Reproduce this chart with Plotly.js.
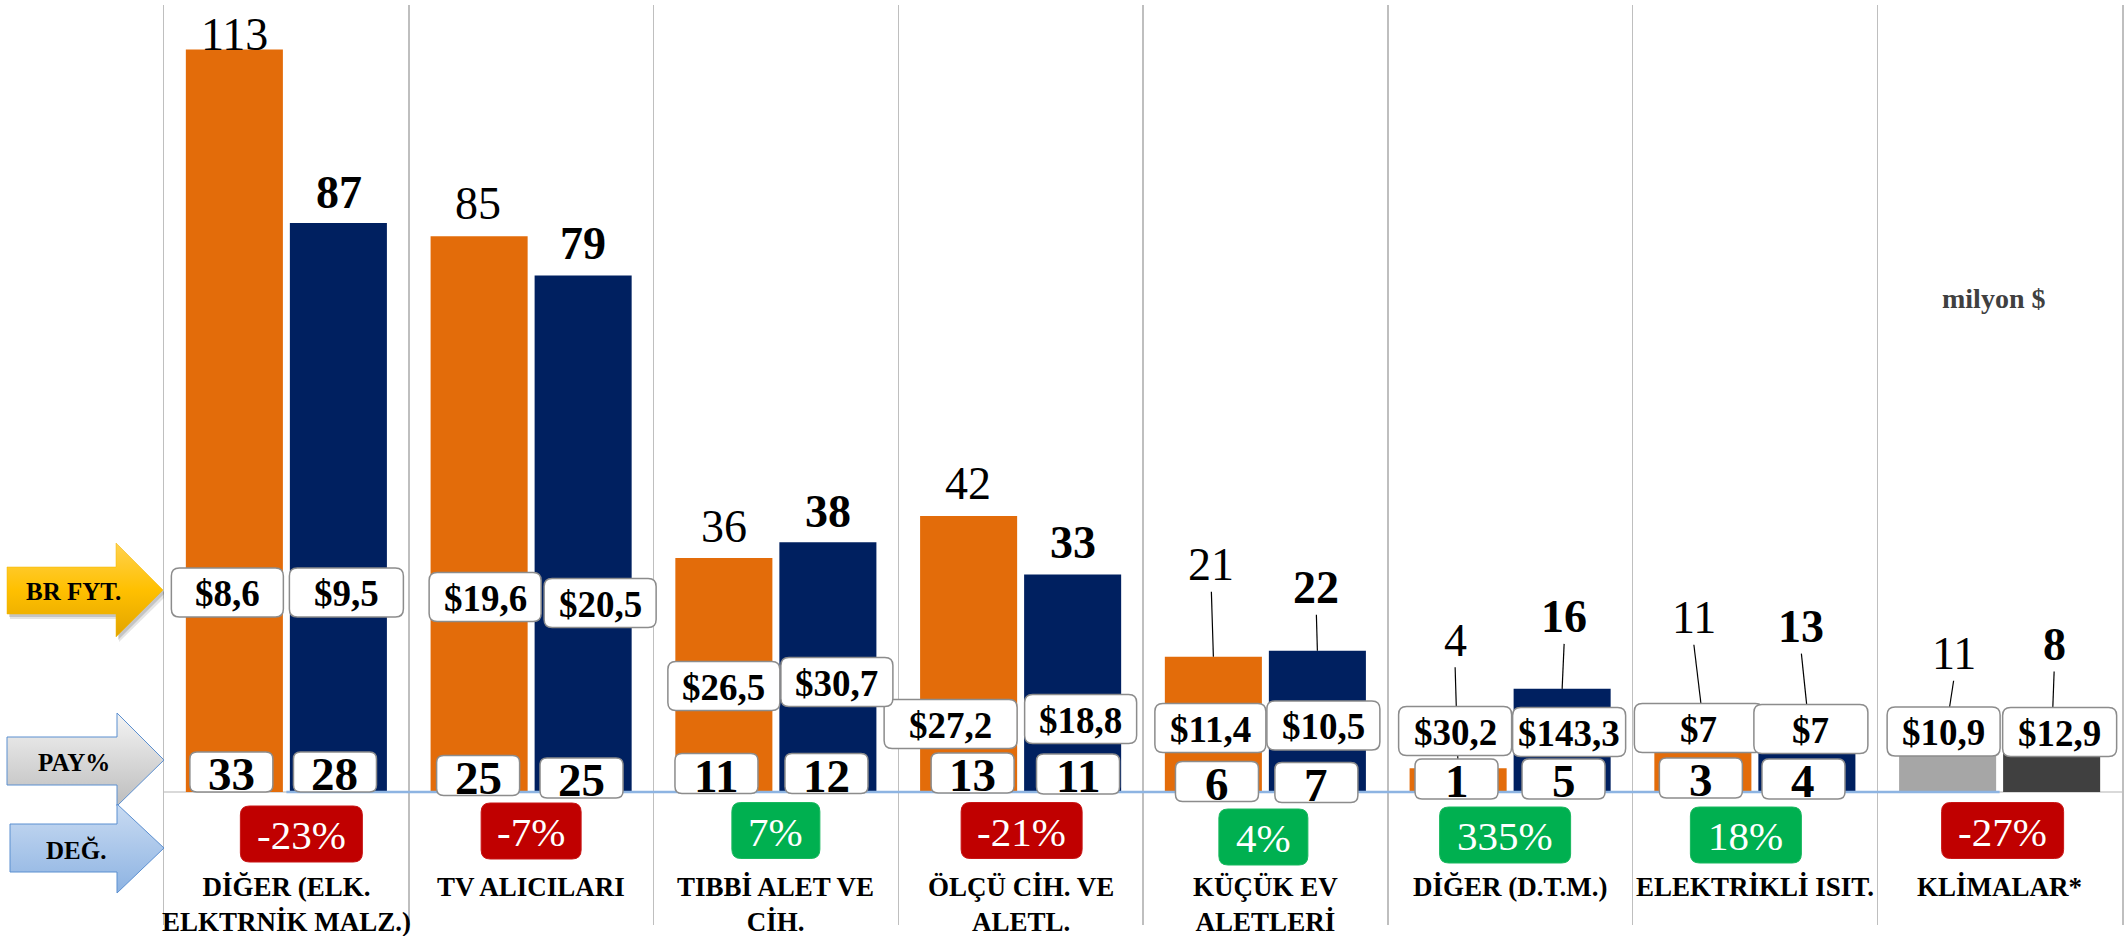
<!DOCTYPE html>
<html>
<head>
<meta charset="utf-8">
<script src="https://cdn.plot.ly/plotly-3.0.1.min.js"></script>
<style>
html,body{margin:0;padding:0;background:#ffffff;}
#chart{width:2127px;height:936px;}
</style>
</head>
<body>
<div id="chart"></div>
<script>
// ---------------- DATA ----------------
const categories = [
  "DİĞER (ELK.<br>ELKTRNİK MALZ.)",
  "TV ALICILARI",
  "TIBBİ ALET VE<br>CİH.",
  "ÖLÇÜ CİH. VE<br>ALETL.",
  "KÜÇÜK EV<br>ALETLERİ",
  "DİĞER (D.T.M.)",
  "ELEKTRİKLİ ISIT.",
  "KLİMALAR*"
];
// milyon $ (orange = previous period, navy = current period)
const valuesPrev = [113, 84.6, 35.6, 42.0, 20.6, 3.6, 11, 11];
const valuesCurr = [86.6, 78.6, 38.0, 33.1, 21.5, 15.7, 13, 8];
// unit price (BR FYT.)
const unitPricePrev = [8.6, 19.6, 26.5, 27.2, 11.4, 30.2, 7, 10.9];
const unitPriceCurr = [9.5, 20.5, 30.7, 18.8, 10.5, 143.3, 7, 12.9];
// market share % (PAY%)
const sharePrev = [33, 25, 11, 13, 6, 1, 3, null];
const shareCurr = [28, 25, 12, 11, 7, 5, 4, null];
// change % (DEĞ.)
const changePct = [-23, -7, 7, -21, 4, 335, 18, -27];
// flat connector series drawn along the base
const baseSeries = [0, 0, 0, 0, 0, 0, 0, 0];
const unitNote = "milyon $";

// ---------------- GEOMETRY / STYLE ----------------
const W = 2127, H = 936;
const PL = 164, PR = 2122, PT = 5, PB = 925, BASE = 792;
const N = categories.length;
const PXX = (PR - PL) / N;           // px per category
const PXY = 6.57;                    // px per unit
const yMax = (BASE - PT) / PXY, yMin = -(PB - BASE) / PXY;
const BARGAP = 0.15, BARGROUPGAP = 0.067;
const OFF = (1 - BARGAP) / 4;        // bar centre offset from category centre
const FONT = "Liberation Serif, 'Times New Roman', serif";
const ORANGE = "#E36C0A", NAVY = "#002060";

const colorsPrev = categories.map((c, i) => i === N - 1 ? "#A6A6A6" : ORANGE);
const colorsCurr = categories.map((c, i) => i === N - 1 ? "#404040" : NAVY);

// label placement (pixels): [dx from bar centre, height above bar top]
const valLabelPrev = [[0,15],[-1,33],[0,32],[-0.6,33],[-2,92],[-3,128],[-9,102],[6,66]];
const valLabelCurr = [[1,31],[0,32],[0,31],[0.4,32],[-1,63],[2,72],[-5.5,80],[2.5,95]];
// price boxes: [dx from bar centre, centre height above base, width]
const priceBoxPrev = [[-7,199.5,112],[6,195,112],[0,106,112],[-18,68,133],[-3,64,111],[-3,61,113],[-4,64,129],[-4,60.5,113]];
const priceBoxCurr = [[8,199.5,114],[17,189,112],[9,110,112],[8,73,112],[6,66.5,113],[7,60,113],[4,63,114],[8,60,114]];
// share boxes: [dx from bar centre, centre height above base]
const shareBoxPrev = [[-3,20],[-1,16.5],[-7.4,18.5],[4,19],[3.6,10.5],[-1.6,13],[-2,14]];
const shareBoxCurr = [[-3.4,20],[-1.6,14],[-1.4,18.5],[5.4,18],[-1,9.5],[1.4,13],[-3.4,13]];
// change boxes: [dx from category centre, centre y px, width]
const changeBox = [[15,834,122],[0,831,100],[0,830.5,88],[1,830.5,121],[-2,837,89],[-5,835,131],[-9,835,111],[3,830.5,122]];

const ydat = py => (BASE - py) / PXY;
const barX = (i, s) => i + (s === 0 ? -OFF : OFF);
const f = v => v.toFixed(5);

function rrect(cx, cy, wPx, hPx, rPx) {
  const hw = wPx / 2 / PXX, hh = hPx / 2 / PXY, rx = rPx / PXX, ry = rPx / PXY;
  const x0 = cx - hw, x1 = cx + hw, y0 = cy - hh, y1 = cy + hh;
  return `M${f(x0+rx)},${f(y1)} L${f(x1-rx)},${f(y1)} Q${f(x1)},${f(y1)} ${f(x1)},${f(y1-ry)} ` +
         `L${f(x1)},${f(y0+ry)} Q${f(x1)},${f(y0)} ${f(x1-rx)},${f(y0)} L${f(x0+rx)},${f(y0)} ` +
         `Q${f(x0)},${f(y0)} ${f(x0)},${f(y0+ry)} L${f(x0)},${f(y1-ry)} Q${f(x0)},${f(y1)} ${f(x0+rx)},${f(y1)} Z`;
}
const priceText = v => "$" + (Number.isInteger(v) ? String(v) : v.toFixed(1).replace(".", ","));

const xIdx = categories.map((c, i) => i);

// ---------------- TRACES ----------------
const traces = [
  { type: "bar", x: xIdx, y: valuesPrev, marker: { color: colorsPrev }, hoverinfo: "skip", showlegend: false },
  { type: "bar", x: xIdx, y: valuesCurr, marker: { color: colorsCurr }, hoverinfo: "skip", showlegend: false },
  { type: "scatter", mode: "lines", x: xIdx, y: baseSeries, line: { color: "#8DB4E2", width: 2.5 }, hoverinfo: "skip", showlegend: false }
];

// side arrows (pixel geometry on an auxiliary axis covering the left margin)
function arrowPts(x0, bodyTop, bodyBot, headX, headTop, headBot, tipX, tipY) {
  const xs = [x0, headX, headX, tipX, headX, headX, x0, x0];
  const ys = [bodyTop, bodyTop, headTop, tipY, headBot, bodyBot, bodyBot, bodyTop];
  return { x: xs, y: ys.map(v => H - v) };
}
function arrowTrace(p, top, bot, cscale, fillc, linec, lw) {
  return {
    type: "scatter", mode: "lines", x: p.x, y: p.y, xaxis: "x2", yaxis: "y2",
    fill: "toself", fillcolor: fillc,
    fillgradient: { type: "vertical", colorscale: cscale, start: H - bot, stop: H - top },
    line: { color: linec, width: lw }, hoverinfo: "skip", showlegend: false
  };
}
const brShadow1 = arrowPts(10, 571, 619, 119, 547, 642, 167, 595);
const brShadow2 = arrowPts(9, 569, 617, 118, 545, 640, 165, 593);
traces.push({ type: "scatter", mode: "lines", x: brShadow1.x, y: brShadow1.y, xaxis: "x2", yaxis: "y2", fill: "toself", fillcolor: "rgba(0,0,0,0.10)", line: { width: 0, color: "rgba(0,0,0,0)" }, hoverinfo: "skip", showlegend: false });
traces.push({ type: "scatter", mode: "lines", x: brShadow2.x, y: brShadow2.y, xaxis: "x2", yaxis: "y2", fill: "toself", fillcolor: "rgba(0,0,0,0.14)", line: { width: 0, color: "rgba(0,0,0,0)" }, hoverinfo: "skip", showlegend: false });
traces.push(arrowTrace(arrowPts(7, 567, 614, 116, 543, 637, 163, 590), 543, 637,
  [[0, "#E2A400"], [0.5, "#FFC000"], [1, "#FFD24F"]], "#FFC000", "#F0B400", 0.5));
traces.push(arrowTrace(arrowPts(7, 737, 785, 117, 713, 806, 164, 760), 713, 806,
  [[0, "#BDBDBD"], [1, "#F4F4F4"]], "#DDDDDD", "#5B8FD0", 1));
traces.push(arrowTrace(arrowPts(10, 824, 872, 117, 804, 893, 164, 848), 804, 893,
  [[0, "#8DB3E2"], [1, "#C9DBF2"]], "#A9C5EA", "#5B8FD0", 1));

// ---------------- SHAPES & ANNOTATIONS ----------------
const shapes = [];
const annotations = [];

// value labels + leader lines
[valuesPrev, valuesCurr].forEach((vals, s) => {
  const offs = s === 0 ? valLabelPrev : valLabelCurr;
  vals.forEach((v, i) => {
    const bx = barX(i, s);
    const lx = bx + offs[i][0] / PXX;
    const ly = v + offs[i][1] / PXY;
    if (offs[i][1] > 45) {
      shapes.push({ type: "line", xref: "x", yref: "y", layer: "above",
        x0: lx, y0: ly - 27 / PXY, x1: bx, y1: v, line: { color: "#000000", width: 1.2 } });
    }
    annotations.push({ x: lx, y: ly, xref: "x", yref: "y", showarrow: false,
      text: String(Math.round(v)), xanchor: "center", yanchor: "middle",
      font: { family: FONT, size: 46, color: "#000000", weight: s === 0 ? 400 : 700 } });
  });
});

// price boxes
[unitPricePrev, unitPriceCurr].forEach((vals, s) => {
  const pos = s === 0 ? priceBoxPrev : priceBoxCurr;
  vals.forEach((v, i) => {
    const cx = barX(i, s) + pos[i][0] / PXX;
    const cy = pos[i][1] / PXY;
    shapes.push({ type: "path", xref: "x", yref: "y", layer: "above", path: rrect(cx, cy, pos[i][2], 49, 8),
      fillcolor: "#FFFFFF", line: { color: "#8C8C8C", width: 1.5 } });
    annotations.push({ x: cx, y: cy - 1 / PXY, xref: "x", yref: "y", showarrow: false, text: priceText(v),
      xanchor: "center", yanchor: "middle", font: { family: FONT, size: 37, color: "#000000", weight: 700 } });
  });
});

// share boxes
[sharePrev, shareCurr].forEach((vals, s) => {
  const pos = s === 0 ? shareBoxPrev : shareBoxCurr;
  vals.forEach((v, i) => {
    if (v === null || v === undefined) return;
    const cx = barX(i, s) + pos[i][0] / PXX;
    const cy = pos[i][1] / PXY;
    shapes.push({ type: "path", xref: "x", yref: "y", layer: "above", path: rrect(cx, cy, 83, 40, 7),
      fillcolor: "#FFFFFF", line: { color: "#8C8C8C", width: 1.5 } });
    annotations.push({ x: cx, y: cy - 2 / PXY, xref: "x", yref: "y", showarrow: false, text: String(v),
      xanchor: "center", yanchor: "middle", font: { family: FONT, size: 47, color: "#000000", weight: 700 } });
  });
});

// change boxes
changePct.forEach((v, i) => {
  const cx = i + changeBox[i][0] / PXX;
  const cy = ydat(changeBox[i][1]);
  shapes.push({ type: "path", xref: "x", yref: "y", layer: "above", path: rrect(cx, cy, changeBox[i][2], 56, 9),
    fillcolor: v >= 0 ? "#00B050" : "#C00000", line: { color: v >= 0 ? "#19B85E" : "#C81515", width: 1 } });
  annotations.push({ x: cx, y: cy - 1 / PXY, xref: "x", yref: "y", showarrow: false, text: v + "%",
    xanchor: "center", yanchor: "middle", font: { family: FONT, size: 41, color: "#FFFFFF", weight: 400 } });
});

// category names
categories.forEach((c, i) => {
  const lines = c.split("<br>").length;
  const cyPx = lines > 1 ? 904.5 : 887;
  annotations.push({ x: i, y: ydat(cyPx), xref: "x", yref: "y", showarrow: false, text: c,
    xanchor: "center", yanchor: "middle", align: "center",
    font: { family: FONT, size: 27, color: "#000000", weight: 700 } });
});

// arrow captions + unit note
const capFont = { family: FONT, size: 25, color: "#000000", weight: 700 };
annotations.push({ x: 73 / W, y: 1 - 591 / H, xref: "paper", yref: "paper", showarrow: false, text: "BR FYT.", xanchor: "center", yanchor: "middle", font: capFont });
annotations.push({ x: 73.6 / W, y: 1 - 762 / H, xref: "paper", yref: "paper", showarrow: false, text: "PAY%", xanchor: "center", yanchor: "middle", font: capFont });
annotations.push({ x: 76 / W, y: 1 - 850 / H, xref: "paper", yref: "paper", showarrow: false, text: "DEĞ.", xanchor: "center", yanchor: "middle", font: capFont });
annotations.push({ x: 1993 / W, y: 1 - 298 / H, xref: "paper", yref: "paper", showarrow: false, text: unitNote, xanchor: "center", yanchor: "middle",
  font: { family: FONT, size: 28, color: "#404040", weight: 700 } });

// ---------------- LAYOUT ----------------
const layout = {
  width: W, height: H,
  margin: { l: 0, r: 0, t: 0, b: 0, pad: 0 },
  paper_bgcolor: "#FFFFFF", plot_bgcolor: "rgba(0,0,0,0)",
  barmode: "group", bargap: BARGAP, bargroupgap: BARGROUPGAP,
  showlegend: false,
  xaxis: {
    domain: [PL / W, PR / W], range: [-0.5, N - 0.5], tick0: 0.5, dtick: 1,
    showgrid: true, gridcolor: "#BFBFBF", gridwidth: 1.5,
    showticklabels: false, ticks: "", zeroline: false, showline: false, fixedrange: true
  },
  yaxis: {
    domain: [(H - PB) / H, (H - PT) / H], range: [yMin, yMax],
    showgrid: false, zeroline: true, zerolinecolor: "#D9D9D9", zerolinewidth: 2,
    showline: true, mirror: true, linecolor: "#BFBFBF", linewidth: 1.5,
    showticklabels: false, ticks: "", fixedrange: true
  },
  xaxis2: { domain: [0, PL / W], range: [0, PL], visible: false, anchor: "y2", fixedrange: true },
  yaxis2: { domain: [0, 1], range: [0, H], visible: false, anchor: "x2", fixedrange: true },
  shapes: shapes,
  annotations: annotations
};

Plotly.newPlot("chart", traces, layout, { displayModeBar: false, staticPlot: true });
</script>
</body>
</html>
